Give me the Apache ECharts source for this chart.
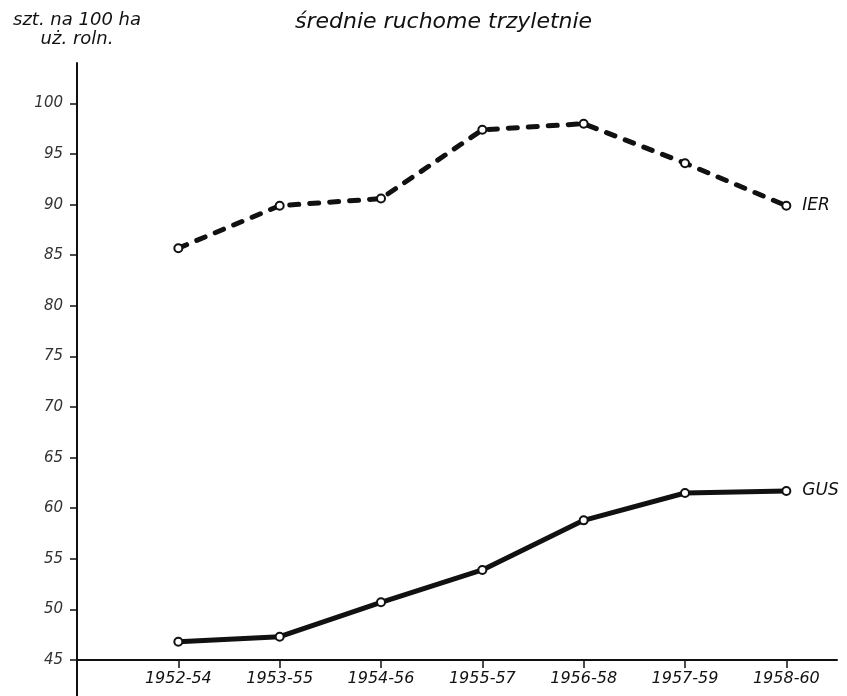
<!DOCTYPE html>
<html><head><meta charset="utf-8">
<script src="https://cdn.jsdelivr.net/npm/echarts@6/dist/echarts.min.js"></script>
<style>html,body{margin:0;padding:0;background:#fff}#c{width:847px;height:696px}</style>
</head><body><div id="c"></div>
<script>
// ---- data ----
const categories = ['1952-54', '1953-55', '1954-56', '1955-57', '1956-58', '1957-59', '1958-60'];
const ierValues = [85.7, 89.9, 90.6, 97.4, 98.0, 94.1, 89.9];
const gusValues = [46.8, 47.3, 50.7, 53.9, 58.8, 61.5, 61.7];
const yTickValues = [45, 50, 55, 60, 65, 70, 75, 80, 85, 90, 95, 100];
const seriesNames = ['IER', 'GUS'];
const titleText = 'średnie ruchome trzyletnie';
const yAxisTitle = 'szt. na 100 ha\nuż. roln.';

// ---- chart ----
const FONT = 'DejaVu Sans';
const catIdx = categories.map((c, i) => i);
const toPairs = vals => vals.map((v, i) => [i, v]);

const chart = echarts.init(document.getElementById('c'), null, {renderer: 'canvas'});

function lineSeries(name, vals, dashed) {
  return {
    name: name,
    type: 'line',
    data: toPairs(vals),
    symbol: 'emptyCircle',
    symbolSize: 8,
    z: 3,
    lineStyle: dashed
      ? {color: '#111', width: 5, type: [9, 11], cap: 'round'}
      : {color: '#111', width: 5, cap: 'round'},
    itemStyle: {color: '#111', borderWidth: 1.6},
    endLabel: {
      show: true,
      formatter: '{a}',
      distance: 16,
      fontFamily: FONT,
      fontStyle: 'italic',
      fontSize: 17,
      color: '#111'
    },
    emphasis: {disabled: true}
  };
}

chart.setOption({
  animation: false,
  backgroundColor: '#fff',
  title: {
    text: titleText,
    left: 290,
    top: 6,
    textStyle: {fontFamily: FONT, fontStyle: 'italic', fontWeight: 'normal', fontSize: 22, color: '#111'}
  },
  grid: {left: 77, right: 10, top: 63, bottom: 0},
  xAxis: {
    type: 'value',
    min: -1,
    max: 6.5,
    offset: -36,
    axisLine: {show: true, onZero: false, lineStyle: {color: '#111', width: 2}},
    axisTick: {show: true, customValues: catIdx, length: 8, lineStyle: {color: '#111', width: 1.5}},
    axisLabel: {
      customValues: catIdx,
      formatter: v => categories[Math.round(v)] || '',
      margin: 11,
      fontFamily: FONT,
      fontStyle: 'italic',
      fontSize: 16,
      color: '#111'
    },
    splitLine: {show: false}
  },
  yAxis: {
    type: 'value',
    min: 41.44,
    max: 104,
    name: yAxisTitle,
    nameLocation: 'end',
    nameGap: 14,
    nameTextStyle: {fontFamily: FONT, fontStyle: 'italic', fontSize: 18, lineHeight: 19, align: 'center', color: '#111'},
    axisLine: {show: true, onZero: false, lineStyle: {color: '#111', width: 2}},
    axisTick: {show: true, customValues: yTickValues, length: 7, lineStyle: {color: '#111', width: 1.5}},
    axisLabel: {
      customValues: yTickValues,
      margin: 14,
      fontFamily: FONT,
      fontStyle: 'italic',
      fontSize: 15,
      color: '#333'
    },
    splitLine: {show: false}
  },
  series: [
    lineSeries(seriesNames[0], ierValues, true),
    lineSeries(seriesNames[1], gusValues, false)
  ]
});
</script>
</body></html>
